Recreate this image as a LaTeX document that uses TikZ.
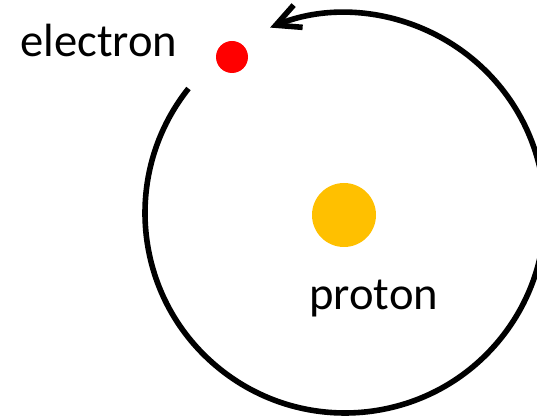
\documentclass[tikz,border=0pt]{standalone}
\usepackage{fontspec}
\setmainfont{Carlito}
\usepackage{xcolor}
\definecolor{protongold}{RGB}{255,192,0}
\definecolor{electronred}{RGB}{255,0,0}
\usetikzlibrary{arrows.meta}

\begin{document}
\begin{tikzpicture}[x=0.5pt, y=0.5pt,
  labeltext/.style={font=\fontsize{23.3}{28}\selectfont, anchor=base west, inner sep=0pt},
  particle/.style={circle, inner sep=0pt, draw=none}]
  \useasboundingbox (0,0) rectangle (537,418);
  \clip (0,0) rectangle (537,418);

  % Proton
  \node[particle, fill=protongold, minimum size=32pt] (proton) at (344,203) {};
  \node[labeltext] (protonlabel) at (309,108) {proton};

  % Electron
  \node[particle, fill=electronred, minimum size=16pt] (electron) at (232,361) {};
  \node[labeltext] (electronlabel) at (20,361) {electron};

  % Orbit
  \coordinate (nucleus) at (345,205);
  \draw[line width=2.8pt, -{Straight Barb[length=12pt, width=12pt]}]
       (nucleus) ++(141.5:200) arc[start angle=141.5, end angle=472, radius=200];
\end{tikzpicture}
\end{document}
